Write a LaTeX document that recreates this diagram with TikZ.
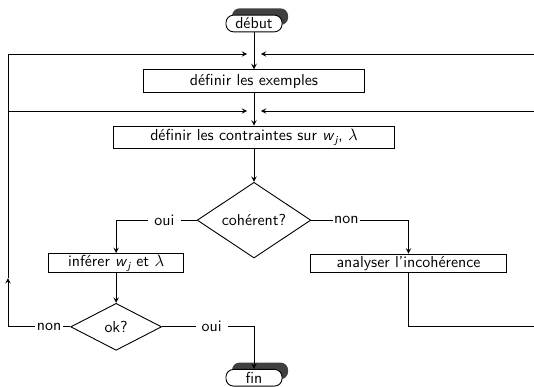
\documentclass[tikz,border=0pt]{standalone}
\usepackage{amsmath}
\usepackage{tikz}
\usetikzlibrary{shapes.geometric, arrows, positioning, shadows}
\newcommand{\wj}{\textsf{\itshape w}$_{\textsf{\itshape\scriptsize j}}$}
\tikzstyle{term} = [rectangle, rounded corners=5pt, minimum width=37pt, minimum height=11pt, inner sep=1pt, text centered, draw=black, fill=white, drop shadow={shadow xshift=4pt, shadow yshift=4.5pt, fill=black!75, opacity=1}]
\tikzstyle{proc} = [rectangle, minimum height=12pt, inner sep=1pt, text centered, draw=black, fill=white]
\tikzstyle{test} = [diamond, inner sep=0pt, text centered, draw=black, fill=white]
\tikzstyle{lbl} = [fill=white, inner sep=1pt]
\tikzstyle{arrow} = [->, >=stealth]

\begin{document}
\begin{tikzpicture}[x=0.66pt, y=-0.66pt, line width=0.6pt, every node/.style={font=\sffamily\fontsize{10.5pt}{12pt}\selectfont}]
        \useasboundingbox (0,0) rectangle (534,387);

        % Main column
        \node (debut) [term] at (254,23.5) {début};
        \node (exm) [proc, below of=debut, node distance=38pt, minimum width=146pt, minimum height=15pt] {définir les exemples};
        \node (con) [proc, below of=exm, node distance=37pt, minimum width=186pt, minimum height=14.5pt] {définir les contraintes sur \wj, $\lambda$};
        \node (coh) [test, below of=con, node distance=54.8pt, minimum width=75pt, minimum height=43.5pt] {cohérent?};

        % Branches
        \node (inf) [proc, below of=coh, node distance=28.4pt, xshift=-91pt, minimum width=89pt] {inférer \wj{} et $\lambda$};
        \node (ana) [proc, below of=coh, node distance=28.4pt, xshift=102pt, minimum width=129pt] {analyser l'incohérence};
        \node (ok) [test, below of=inf, node distance=42pt, minimum width=60pt, minimum height=31pt] {ok?};
        \node (fin) [term, below of=coh, node distance=104pt] {fin};

        % Loop points
        \coordinate (m1) at (254,54);
        \coordinate (m2) at (254,111);
        \coordinate (lup) at (8,278);
        \coordinate (lmid) at (8,111);
        \coordinate (r1) at (534,54);
        \coordinate (r2) at (534,111);
        \coordinate (r3) at (534,326);

        % Connections
        \draw [arrow] (debut.south) -- (exm.north);
        \draw [arrow, shorten >=4.5pt] (lup) |- (m1);
        \draw [arrow, shorten >=4.5pt] (lmid) -- (m2);
        \draw [arrow, shorten >=4.5pt] (r1) -- (m1);
        \draw [arrow, shorten >=4.5pt] (r2) -- (m2);
        \draw [arrow] (exm.south) -- (con.north);
        \draw [arrow] (con.south) -- (coh.north);

        \draw [arrow] (coh.west) -| node[lbl, pos=0.2, inner xsep=4pt] {oui} (inf.north);
        \draw [arrow] (coh.east) -| node[lbl, pos=0.18] {non} (ana.north);
        \draw [arrow] (inf.south) -- (ok.north);
        \draw [arrow] (ok.west) -| node[lbl, pos=0.17] {non} (lup);
        \draw [arrow] (ok.east) -| node[lbl, pos=0.27, inner xsep=4pt] {oui} (fin.north);
        \draw (ana.south) |- (r3);
    \end{tikzpicture}
\end{document}
